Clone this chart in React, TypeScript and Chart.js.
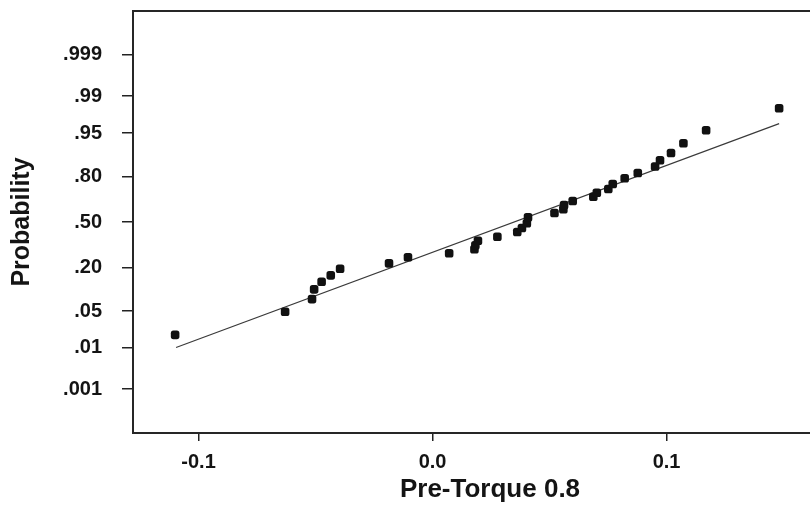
import React, { useEffect, useRef } from 'react';
import { Chart, registerables } from 'chart.js';

Chart.register(...registerables);

// Observed Pre-Torque 0.8 values (sorted) and their plotted probabilities (%)
const torque = [
  -0.1100, -0.0630, -0.0515, -0.0506, -0.0474, -0.0435, -0.0395, -0.0186, -0.0105,
  0.0071, 0.0179, 0.0183, 0.0194, 0.0277, 0.0362, 0.0382, 0.0403, 0.0408,
  0.0521, 0.0559, 0.0562, 0.0599, 0.0687, 0.0702, 0.0751, 0.0770, 0.0821,
  0.0877, 0.0951, 0.0972, 0.1019, 0.1072, 0.1169, 0.1481,
];
const probabilityPct = [
  1.85, 4.85, 7.71, 10.66, 13.46, 16.21, 19.38, 22.24, 25.69,
  28.13, 30.68, 33.32, 36.47, 39.28, 42.66, 45.58, 49.04, 53.47,
  56.61, 59.29, 62.34, 65.12, 68.01, 70.61, 72.92, 75.9, 79.06,
  81.77, 84.78, 87.32, 89.91, 92.73, 95.51, 98.23,
];

// Fitted normal line end points
const fitTorque = [-0.1096, 0.1481];
const fitProbabilityPct = [1.02, 96.55];

const probTicks = [0.001, 0.01, 0.05, 0.2, 0.5, 0.8, 0.95, 0.99, 0.999];
const probTickLabels = ['.001', '.01', '.05', '.20', '.50', '.80', '.95', '.99', '.999'];
const xTicks = [-0.1, 0.0, 0.1];

const xTitle = 'Pre-Torque 0.8';
const yTitle = 'Probability';

// inverse standard normal CDF (Acklam) – used as the probability-scale transform
function probit(p: number): number {
  const a = [-3.969683028665376e1, 2.209460984245205e2, -2.759285104469687e2, 1.38357751867269e2, -3.066479806614716e1, 2.506628277459239];
  const b = [-5.447609879822406e1, 1.615858368580409e2, -1.556989798598866e2, 6.680131188771972e1, -1.328068155288572e1];
  const c = [-7.784894002430293e-3, -3.223964580411365e-1, -2.400758277161838, -2.549671477686201, 4.374664141464968, 2.938163982698783];
  const d = [7.784695709041462e-3, 3.224671290700398e-1, 2.445134137142996, 3.754408661907416];
  const plow = 0.02425;
  if (p < plow) {
    const q = Math.sqrt(-2 * Math.log(p));
    return (((((c[0] * q + c[1]) * q + c[2]) * q + c[3]) * q + c[4]) * q + c[5]) /
      ((((d[0] * q + d[1]) * q + d[2]) * q + d[3]) * q + 1);
  }
  if (p <= 1 - plow) {
    const q = p - 0.5;
    const r = q * q;
    return ((((((a[0] * r + a[1]) * r + a[2]) * r + a[3]) * r + a[4]) * r + a[5]) * q) /
      (((((b[0] * r + b[1]) * r + b[2]) * r + b[3]) * r + b[4]) * r + 1);
  }
  const q = Math.sqrt(-2 * Math.log(1 - p));
  return -(((((c[0] * q + c[1]) * q + c[2]) * q + c[3]) * q + c[4]) * q + c[5]) /
    ((((d[0] * q + d[1]) * q + d[2]) * q + d[3]) * q + 1);
}

const FONT = '"Liberation Sans", Arial, Helvetica, sans-serif';
const INK = '#141414';

const framePlugin = {
  id: 'frame',
  afterDatasetsDraw(chart: any) {
    const { ctx, chartArea } = chart;
    const { left, top, right, bottom } = chartArea;
    ctx.save();
    ctx.strokeStyle = '#262626';
    ctx.lineWidth = 2;
    ctx.strokeRect(left, top, right - left, bottom - top);
    ctx.restore();
  },
};

export default function App() {
  const canvasRef = useRef<HTMLCanvasElement | null>(null);

  useEffect(() => {
    const canvas = canvasRef.current;
    if (!canvas) return;
    const points = torque.map((x, i) => ({ x, y: probit(probabilityPct[i] / 100) }));
    const fit = fitTorque.map((x, i) => ({ x, y: probit(fitProbabilityPct[i] / 100) }));

    const chart = new Chart(canvas, {
      type: 'scatter',
      data: {
        datasets: [
          {
            label: 'data',
            data: points,
            pointStyle: 'rectRounded',
            pointRadius: 5,
            backgroundColor: '#111111',
            borderColor: '#111111',
            borderWidth: 0,
          },
          {
            label: 'fit',
            type: 'line',
            data: fit,
            showLine: true,
            pointRadius: 0,
            borderColor: '#3a3a3a',
            borderWidth: 1.2,
            fill: false,
          } as any,
        ],
      },
      options: {
        responsive: false,
        animation: false,
        layout: { padding: { top: 11, right: 23, left: 0, bottom: 0 } },
        plugins: {
          legend: { display: false },
          tooltip: { enabled: false },
        },
        scales: {
          x: {
            type: 'linear',
            min: -0.128,
            max: 0.1771,
            afterFit: (scale: any) => {
              scale.height = 73;
              scale.paddingLeft = 0;
              scale.paddingRight = 0;
            },
            afterBuildTicks: (scale: any) => { scale.ticks = xTicks.map((v) => ({ value: v })); },
            ticks: {
              callback: (v: any) => Number(v).toFixed(1),
              font: { family: FONT, size: 20, weight: 'bold' },
              color: INK,
              padding: 9,
              maxRotation: 0,
            },
            grid: {
              display: true,
              drawOnChartArea: false,
              drawTicks: true,
              tickLength: 8,
              color: '#222',
              lineWidth: 1.5,
            },
            border: { display: false },
            title: {
              display: true,
              text: xTitle,
              font: { family: FONT, size: 26, weight: 'bold' },
              color: INK,
              padding: { top: 0, bottom: 1 },
            },
          },
          y: {
            type: 'linear',
            min: -3.9,
            max: 3.9,
            afterFit: (scale: any) => {
              scale.width = 133;
              scale.paddingTop = 0;
              scale.paddingBottom = 0;
            },
            afterBuildTicks: (scale: any) => {
              scale.ticks = probTicks.map((p, i) => ({ value: probit(p), lbl: probTickLabels[i] }));
            },
            ticks: {
              callback: (_v: any, i: number, ticks: any[]) => (ticks[i] && ticks[i].lbl) || '',
              font: { family: FONT, size: 20, weight: 'bold' },
              color: INK,
              padding: 20,
            },
            grid: {
              display: true,
              drawOnChartArea: false,
              drawTicks: true,
              tickLength: 11,
              color: '#222',
              lineWidth: 1.5,
            },
            border: { display: false },
            title: {
              display: true,
              text: yTitle,
              font: { family: FONT, size: 25, weight: 'bold' },
              color: INK,
              padding: { top: 7, bottom: 0 },
            },
          },
        },
      },
      plugins: [framePlugin],
    });

    return () => chart.destroy();
  }, []);

  return (
    <div style={{ position: 'fixed', left: 0, top: 0, width: 810, height: 506, overflow: 'hidden', background: '#fff' }}>
      <canvas ref={canvasRef} width={870} height={506} style={{ display: 'block' }} />
    </div>
  );
}
